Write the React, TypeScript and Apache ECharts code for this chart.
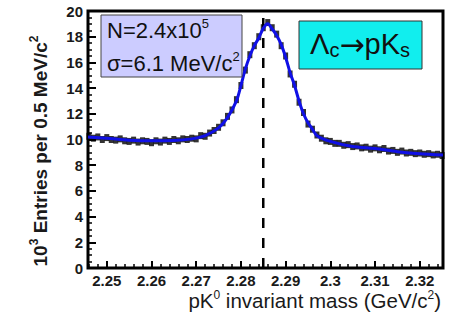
import React, { useEffect, useRef } from "react";
import * as echarts from "echarts";

const massBins = [
  2.246, 2.247, 2.248, 2.249, 2.25, 2.251, 2.252, 2.253, 2.254, 2.255,
  2.256, 2.257, 2.258, 2.259, 2.26, 2.261, 2.262, 2.263, 2.264, 2.265,
  2.266, 2.267, 2.268, 2.269, 2.27, 2.271, 2.272, 2.273, 2.274, 2.275,
  2.276, 2.277, 2.278, 2.279, 2.28, 2.281, 2.282, 2.283, 2.284, 2.285,
  2.286, 2.287, 2.288, 2.289, 2.29, 2.291, 2.292, 2.293, 2.294, 2.295,
  2.296, 2.297, 2.298, 2.299, 2.3, 2.301, 2.302, 2.303, 2.304, 2.305,
  2.306, 2.307, 2.308, 2.309, 2.31, 2.311, 2.312, 2.313, 2.314, 2.315,
  2.316, 2.317, 2.318, 2.319, 2.32, 2.321, 2.322, 2.323, 2.324, 2.325,
];
const entries = [
  10.25, 10.1, 10.2, 10.0, 10.15, 10.0, 9.95, 10.05, 9.9, 9.85,
  9.95, 9.8, 9.9, 9.85, 9.75, 9.9, 9.8, 9.95, 9.85, 10.0,
  9.9, 10.05, 10.0, 10.1, 10.05, 10.3, 10.25, 10.5, 10.7, 10.95,
  11.3, 11.8, 12.3, 13.1, 14.2, 15.4, 16.6, 17.3, 18.0, 18.7,
  19.1, 18.7, 18.2, 17.3, 16.5, 15.1, 14.3, 12.9, 12.1, 11.2,
  10.8, 10.35, 10.1, 9.9, 9.85, 9.7, 9.7, 9.55, 9.6, 9.45,
  9.5, 9.35, 9.4, 9.25, 9.35, 9.2, 9.3, 9.1, 9.15, 9.0,
  9.1, 8.95, 9.0, 8.9, 8.95, 8.85, 8.9, 8.8, 8.85, 8.75,
];
const fitMass = [
  2.2458, 2.25, 2.255, 2.26, 2.265, 2.269, 2.272, 2.275, 2.277, 2.279,
  2.28, 2.281, 2.282, 2.283, 2.284, 2.285, 2.286, 2.287, 2.288, 2.289,
  2.29, 2.291, 2.292, 2.293, 2.294, 2.295, 2.296, 2.297, 2.3, 2.305,
  2.31, 2.315, 2.32, 2.3252,
];
const fitValues = [
  10.2, 10.1, 9.95, 9.9, 9.92, 10.05, 10.3, 10.9, 11.7, 13.0,
  14.2, 15.5, 16.5, 17.3, 17.9, 18.65, 19.0, 18.6, 18.1, 17.4,
  16.4, 15.2, 14.2, 13.0, 12.0, 11.3, 10.8, 10.3, 9.85, 9.45,
  9.3, 9.05, 8.9, 8.8,
];
const peakMass = 2.285;
const peakLineY = [0, 20];
const xMin = 2.2458;
const xMax = 2.3252;

export default function App() {
  const ref = useRef<HTMLDivElement>(null);
  useEffect(() => {
    document.body.style.margin = "0";
    if (!ref.current) return;
    const chart = echarts.init(ref.current, null, { renderer: "svg" });
    const font = "'Liberation Sans', Arial, sans-serif";
    chart.setOption({
      animation: false,
      backgroundColor: "#ffffff",
      grid: {
        left: 88,
        right: 27,
        top: 11,
        bottom: 53,
        show: true,
        borderColor: "#000",
        borderWidth: 3,
      },
      xAxis: {
        type: "value",
        min: xMin,
        max: xMax,
        splitNumber: 8,
        axisLine: { show: false },
        axisTick: { show: true, inside: true, length: 7, lineStyle: { color: "#000", width: 2 } },
        minorTick: { show: true, splitNumber: 5, length: 4, lineStyle: { color: "#000", width: 1.5 } },
        splitLine: { show: false },
        axisLabel: {
          showMinLabel: false,
          showMaxLabel: false,
          margin: 5,
          fontFamily: font,
          fontWeight: "bold",
          fontSize: 15,
          color: "#1a1a1a",
        },
      },
      yAxis: {
        type: "value",
        min: 0,
        max: 20,
        interval: 2,
        axisLine: { show: false },
        axisTick: { show: true, inside: true, length: 8, lineStyle: { color: "#000", width: 2 } },
        minorTick: { show: true, splitNumber: 4, length: 4, lineStyle: { color: "#000", width: 1.5 } },
        splitLine: { show: false },
        axisLabel: {
          margin: 5,
          fontFamily: font,
          fontWeight: "bold",
          fontSize: 15,
          color: "#1a1a1a",
        },
      },
      series: [
        {
          type: "line",
          data: peakLineY.map((v) => [peakMass, v]),
          showSymbol: false,
          lineStyle: { color: "#000", width: 2.5, type: [10, 10] },
          z: 1,
        },
        {
          type: "scatter",
          data: massBins.map((m, i) => [m, entries[i]]),
          symbol: "rect",
          symbolSize: [5, 7],
          itemStyle: { color: "#000" },
          z: 2,
        },
        {
          type: "line",
          data: fitMass.map((m, i) => [m, fitValues[i]]),
          showSymbol: false,
          smooth: 0.3,
          lineStyle: { color: "#1010e6", width: 3 },
          z: 3,
        },
      ],
      graphic: [
        {
          type: "text",
          x: 40,
          y: 151,
          rotation: Math.PI / 2,
          style: {
            text: "{b|10}{sup|3}{b| Entries per 0.5 MeV/c}{sup|2}",
            align: "center",
            verticalAlign: "middle",
            rich: {
              b: { fontFamily: font, fontWeight: "bold", fontSize: 19, fill: "#1a1a1a" },
              sup: { fontFamily: font, fontWeight: "bold", fontSize: 12, fill: "#1a1a1a", padding: [0, 0, 12, 0] },
            },
          },
        },
        {
          type: "text",
          x: 441,
          y: 300,
          style: {
            text: "{n|pK}{sup|0}{n| invariant mass (GeV/c}{sup|2}{n|)}",
            align: "right",
            verticalAlign: "middle",
            rich: {
              n: { fontFamily: font, fontSize: 20.5, fill: "#1a1a1a" },
              sup: { fontFamily: font, fontSize: 12, fill: "#1a1a1a", padding: [0, 0, 11, 0] },
            },
          },
        },
        {
          type: "rect",
          shape: { x: 101, y: 15, width: 141, height: 62 },
          style: { fill: "#ccccff", stroke: "#444", lineWidth: 1 },
          z: 10,
        },
        {
          type: "text",
          x: 107,
          y: 30,
          z: 11,
          style: {
            text: "{n|N=2.4x10}{sup|5}",
            align: "left",
            verticalAlign: "middle",
            rich: {
              n: { fontFamily: font, fontSize: 22, fill: "#111" },
              sup: { fontFamily: font, fontSize: 13, fill: "#111", padding: [0, 0, 13, 0] },
            },
          },
        },
        {
          type: "text",
          x: 107,
          y: 63,
          z: 11,
          style: {
            text: "{n|σ=6.1 MeV/c}{sup|2}",
            align: "left",
            verticalAlign: "middle",
            rich: {
              n: { fontFamily: font, fontSize: 22, fill: "#111" },
              sup: { fontFamily: font, fontSize: 13, fill: "#111", padding: [0, 0, 13, 0] },
            },
          },
        },
        {
          type: "rect",
          shape: { x: 299, y: 21, width: 123, height: 48 },
          style: { fill: "#11eeee", stroke: "#333", lineWidth: 1 },
          z: 10,
        },
        {
          type: "text",
          x: 360,
          y: 44,
          z: 11,
          style: {
            text: "{n|Λ}{sub|c}{a|→}{n|pK}{sub|s}",
            align: "center",
            verticalAlign: "middle",
            rich: {
              n: { fontFamily: font, fontSize: 29, fill: "#111" },
              a: { fontFamily: "'DejaVu Sans', sans-serif", fontSize: 30, fill: "#111" },
              sub: { fontFamily: font, fontSize: 20, fill: "#111", padding: [12, 0, 0, 0] },
            },
          },
        },
      ],
    });
    return () => chart.dispose();
  }, []);
  return <div ref={ref} style={{ width: 470, height: 321 }} />;
}
